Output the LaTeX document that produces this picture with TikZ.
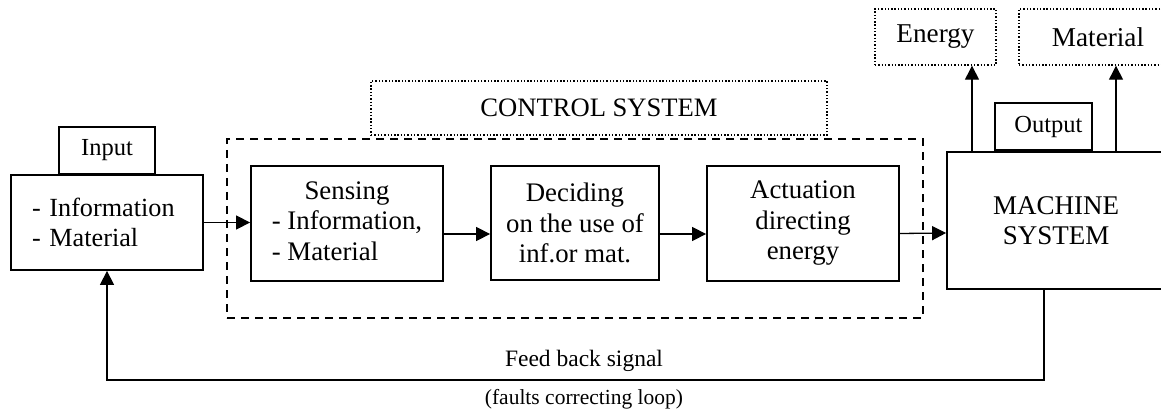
\documentclass[tikz,border=0pt]{standalone}
\usepackage{fontspec}
\setmainfont{Liberation Serif}
\usetikzlibrary{positioning,arrows.meta}

\begin{document}
\begin{tikzpicture}[x=1pt,y=-1pt,line width=1.8pt,
  box/.style={draw,inner sep=0pt,align=center,font=\fontsize{26.8}{30.5}\selectfont},
  tag/.style={draw,inner sep=0pt,font=\fontsize{24.5}{28}\selectfont},
  dotbox/.style={draw,inner sep=0pt,line width=1.4pt,dash pattern=on 1.4pt off 1.9pt},
  arr/.style={line width=1.3pt,-{Triangle[length=14pt,width=14pt]}}]
\useasboundingbox (0,0) rectangle (1161,414);

% control system frame and label
\node[draw,dash pattern=on 8pt off 6pt,line width=1.5pt,minimum width=696pt,minimum height=179pt] (ctrl) at (575,228.5) {};
\node[dotbox,minimum width=456pt,minimum height=54pt,font=\fontsize{26.6}{30}\selectfont] (ctrllbl) at (599,108) {CONTROL SYSTEM};

% input side
\node[tag,minimum width=96pt,minimum height=47pt] (inlbl) at (107,150.5) {Input};
\node[box,align=left,text width=150pt,minimum width=192pt,minimum height=95pt,font=\fontsize{26.2}{30.5}\selectfont] (info) at (107,222.5) {- Information\\- Material};

% the three stages
\node[box,minimum width=192pt,minimum height=115pt] (sense) at (347,223.5)
  {\begin{tabular}{@{}l@{}}\multicolumn{1}{@{}c@{}}{Sensing}\\- Information,\\- Material\end{tabular}};
\node[box,minimum width=168pt,minimum height=114pt] (decide) at (575,223) {Deciding\\on the use of\\inf.or mat.};
\node[box,minimum width=192pt,minimum height=115pt] (act) at (803,223.5) {Actuation\\directing\\energy};

% machine and outputs
\node[box,minimum width=218pt,minimum height=137pt,font=\fontsize{27}{30.5}\selectfont] (machine) at (1056,220.5) {MACHINE\\SYSTEM};
\node[tag,minimum width=97pt,minimum height=47pt] (outlbl) at (1043.5,126.5) {\hspace*{10pt}Output};
\node[dotbox,minimum width=121pt,minimum height=56pt,font=\fontsize{27.2}{30}\selectfont] (energy) at (935.5,37) {Energy};
\node[dotbox,minimum width=158pt,minimum height=56pt,font=\fontsize{27.2}{30}\selectfont] (material) at (1098,37) {Material};

\coordinate (eout) at (972,0);
\coordinate (mout) at (1116,0);
\coordinate (fb) at (1044,380);

% flow
\draw[arr] (info.east) -- (sense.west |- info.east);
\draw[arr] ([yshift=-10.5pt]sense.east) -- ([yshift=-11pt]decide.west);
\draw[arr] ([yshift=-11pt]decide.east) -- ([yshift=-10.5pt]act.west);
\draw[arr] ([yshift=-10pt]act.east) -- ([yshift=-12.5pt]machine.west);
\draw[arr] (machine.north -| eout) -- (energy.south -| eout);
\draw[arr] (machine.north -| mout) -- (material.south -| mout);

% feedback loop
\draw[arr] (machine.south -| fb) -- (fb) -| (info.south);
\node[anchor=base,font=\fontsize{23.5}{26}\selectfont] (fblbl) at (584,366) {Feed back signal};
\node[anchor=base,font=\fontsize{21.5}{26}\selectfont] (fbnote) at (584,404) {(faults correcting loop)};
\end{tikzpicture}
\end{document}
